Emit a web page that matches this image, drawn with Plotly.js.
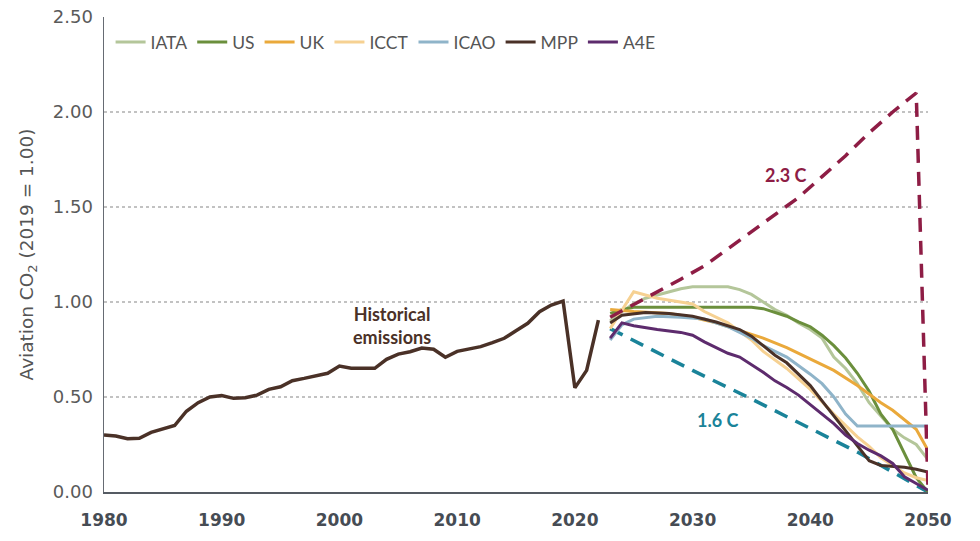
<!DOCTYPE html>
<html>
<head>
<meta charset="utf-8">
<script src="https://cdn.plot.ly/plotly-3.0.1.min.js"></script>
<style>html,body{margin:0;padding:0;background:#fff;}#chart{width:980px;height:541px;}</style>
</head>
<body>
<div id="chart"></div>
<script>
// Historical emissions (2019 = 1.00)
const histYears = [1980,1981,1982,1983,1984,1985,1986,1987,1988,1989,1990,1991,1992,1993,1994,1995,1996,1997,1998,1999,2000,2001,2002,2003,2004,2005,2006,2007,2008,2009,2010,2011,2012,2013,2014,2015,2016,2017,2018,2019,2020,2021,2022];
const histValues = [0.30,0.295,0.28,0.283,0.314,0.33,0.35,0.425,0.47,0.50,0.508,0.493,0.496,0.51,0.54,0.554,0.586,0.598,0.61,0.625,0.663,0.651,0.651,0.651,0.698,0.726,0.738,0.758,0.751,0.709,0.74,0.754,0.765,0.786,0.809,0.849,0.888,0.949,0.984,1.005,0.548,0.64,0.905];

// Scenarios
const iataYears = [2023,2024,2025,2026,2027,2028,2029,2030,2033,2034,2035,2036,2037,2038,2039,2040,2041,2042,2043,2044,2045,2046,2047,2048,2049,2050];
const iataValues = [0.90,0.95,0.99,1.02,1.037,1.055,1.07,1.08,1.08,1.065,1.04,1.00,0.96,0.93,0.89,0.855,0.81,0.71,0.65,0.57,0.47,0.40,0.33,0.285,0.25,0.17];

const usYears = [2023,2024,2025,2035,2036,2037,2038,2039,2040,2041,2042,2043,2044,2045,2046,2047,2048,2049,2050];
const usValues = [0.94,0.96,0.972,0.972,0.965,0.945,0.925,0.895,0.87,0.825,0.77,0.705,0.625,0.53,0.41,0.33,0.20,0.075,0.0];

const ukYears = [2023,2025,2028,2030,2032,2034,2036,2038,2040,2042,2044,2046,2047,2048,2049,2050];
const ukValues = [0.96,0.95,0.94,0.92,0.89,0.85,0.81,0.76,0.70,0.64,0.56,0.47,0.43,0.38,0.33,0.22];

const icctYears = [2023,2025,2027,2029,2030,2031,2033,2035,2036,2038,2040,2042,2043,2044,2045,2046,2047,2048,2049,2050];
const icctValues = [0.86,1.054,1.02,1.00,0.99,0.95,0.89,0.80,0.74,0.65,0.54,0.41,0.35,0.29,0.24,0.18,0.14,0.10,0.075,0.06];

const icaoYears = [2023,2024,2025,2027,2029,2031,2033,2035,2036,2038,2040,2041,2042,2043,2044,2050];
const icaoValues = [0.80,0.88,0.91,0.925,0.92,0.91,0.87,0.81,0.77,0.71,0.62,0.57,0.50,0.41,0.347,0.347];

const mppYears = [2023,2024,2026,2028,2030,2032,2034,2035,2036,2037,2038,2039,2040,2041,2042,2043,2044,2045,2046,2047,2048,2049,2050];
const mppValues = [0.89,0.93,0.945,0.94,0.925,0.895,0.855,0.82,0.77,0.72,0.68,0.62,0.56,0.48,0.40,0.32,0.24,0.165,0.14,0.135,0.13,0.12,0.105];

const a4eYears = [2023,2024,2025,2027,2029,2030,2031,2032,2033,2034,2035,2036,2037,2038,2039,2040,2041,2042,2043,2044,2045,2046,2047,2048,2049,2050];
const a4eValues = [0.81,0.89,0.875,0.855,0.84,0.825,0.79,0.76,0.73,0.71,0.67,0.63,0.585,0.55,0.51,0.46,0.41,0.36,0.30,0.255,0.22,0.19,0.15,0.08,0.045,0.01];

// Temperature pathways
const p23Years = [2023,2025,2027,2029,2031,2033,2035,2037,2039,2041,2043,2045,2047,2049,2050];
const p23Values = [0.92,0.985,1.05,1.12,1.19,1.28,1.37,1.46,1.55,1.66,1.77,1.89,2.00,2.10,0.02];
const p16Years = [2023,2030,2035,2040,2044,2050];
const p16Values = [0.86,0.64,0.49,0.335,0.21,0.0];

const scenarioNames = ["IATA","US","UK","ICCT","ICAO","MPP","A4E"];
const scenarioColors = ["#b4c69a","#6b8f3c","#eaa93b","#f6d192","#8fb4c9","#4a3127","#5d2b6d"];
const scenarioX = [iataYears,usYears,ukYears,icctYears,icaoYears,mppYears,a4eYears];
const scenarioY = [iataValues,usValues,ukValues,icctValues,icaoValues,mppValues,a4eValues];

const FONT = "Lato, 'Open Sans', sans-serif";
const TICKFONT = "'DejaVu Sans', sans-serif";
const traces = [];
traces.push({x: histYears, y: histValues, mode: 'lines', line: {color: '#4a3127', width: 3.5}, showlegend: false, hoverinfo: 'skip'});
traces.push({x: p16Years, y: p16Values, mode: 'lines', line: {color: '#1a8399', width: 3.5, dash: '14px,9px'}, showlegend: false});
for (let i = 0; i < scenarioNames.length; i++) {
  traces.push({x: scenarioX[i], y: scenarioY[i], name: scenarioNames[i], mode: 'lines',
    line: {color: scenarioColors[i], width: 3}});
}
traces.push({x: p23Years, y: p23Values, mode: 'lines', line: {color: '#8e1d45', width: 3.5, dash: '14px,9px'}, showlegend: false});

const layout = {
  width: 980, height: 541,
  margin: {l: 104, r: 52, t: 17, b: 49},
  paper_bgcolor: '#fff', plot_bgcolor: '#fff',
  font: {family: FONT, color: '#4d4d4d', size: 17},
  showlegend: true,
  legend: {orientation: 'h', x: 0.008, y: 0.985, xanchor: 'left', yanchor: 'top',
    font: {family: FONT, size: 17.5, color: '#555'}, bgcolor: 'rgba(0,0,0,0)', tracegroupgap: 0, itemwidth: 30},
  xaxis: {range: [1980, 2050], dtick: 10, tick0: 1980, showgrid: false, zeroline: false,
    showline: true, linecolor: '#555b63', linewidth: 1.5, ticks: '', ticklabelstandoff: 12,
    tickfont: {family: TICKFONT, size: 17, color: '#464c54', weight: 'bold'}, fixedrange: true},
  yaxis: {range: [0, 2.5], dtick: 0.5, tickformat: '.2f', showgrid: true, gridcolor: '#c2c2c2',
    griddash: 'dot', gridwidth: 1.5, zeroline: false, showline: true, linecolor: '#666b73', linewidth: 1.5,
    ticks: '', ticklabelstandoff: 6, tickfont: {family: TICKFONT, size: 18, color: '#5a5a5a'},
    title: {text: 'Aviation CO<sub>2</sub> (2019 = 1.00)', font: {family: TICKFONT, size: 18.5, color: '#555'}, standoff: 14},
    fixedrange: true},
  annotations: [
    {x: 2004.5, y: 0.875, xref: 'x', yref: 'y', text: '<b>Historical<br>emissions</b>', showarrow: false,
      font: {family: FONT, size: 18, color: '#4a3127'}, align: 'center'},
    {x: 2037.9, y: 1.668, xref: 'x', yref: 'y', text: '<b>2.3 C</b>', showarrow: false,
      font: {family: FONT, size: 18, color: '#8e1d45'}},
    {x: 2032.2, y: 0.379, xref: 'x', yref: 'y', text: '<b>1.6 C</b>', showarrow: false,
      font: {family: FONT, size: 18, color: '#1a8399'}}
  ]
};
Plotly.newPlot('chart', traces, layout, {displayModeBar: false, staticPlot: true});
</script>
</body>
</html>
